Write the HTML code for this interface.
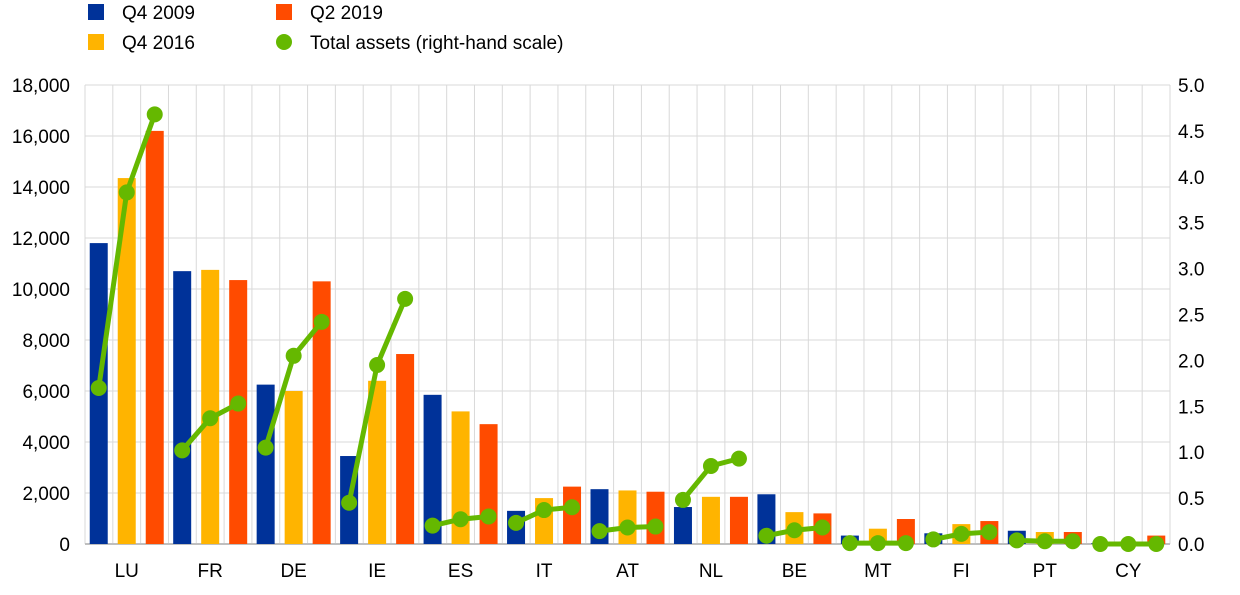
<!DOCTYPE html>
<html><head><meta charset="utf-8"><style>
body{margin:0;background:#fff;font-family:"Liberation Sans",sans-serif}
svg text{font-family:"Liberation Sans",sans-serif;font-size:19px;fill:#000}
</style></head><body>
<svg id="c" width="1240" height="590"></svg>
<script>
const categories=["LU","FR","DE","IE","ES","IT","AT","NL","BE","MT","FI","PT","CY"];
const q42009=[11800,10700,6250,3450,5850,1300,2150,1450,1950,330,420,520,30];
const q42016=[14350,10750,6000,6400,5200,1800,2100,1850,1250,600,780,470,100];
const q22019=[16200,10350,10300,7450,4700,2250,2050,1850,1200,980,900,470,330];
const assets2009=[1.7,1.02,1.05,0.45,0.2,0.23,0.14,0.48,0.09,0.01,0.05,0.04,0.0];
const assets2016=[3.83,1.37,2.05,1.95,0.27,0.37,0.18,0.85,0.15,0.01,0.11,0.03,0.0];
const assets2019=[4.68,1.53,2.42,2.67,0.3,0.4,0.19,0.93,0.18,0.01,0.13,0.03,0.0];
const leftTicks=[0,2000,4000,6000,8000,10000,12000,14000,16000,18000];
const rightTicks=[0,0.5,1,1.5,2,2.5,3,3.5,4,4.5,5];
const X0=85,X1=1170,Y0=544,Y1=85;
const cw=(X1-X0)/categories.length;
const yL=v=>Y0-(v/18000)*(Y0-Y1);
const yR=v=>Y0-(v/5)*(Y0-Y1);
const xC=(i,k)=>X0+cw*(i+0.5)+(k-1)*28;
const svg=document.getElementById('c');const NS='http://www.w3.org/2000/svg';
function mk(t,a,p){const e=document.createElementNS(NS,t);for(const k in a)e.setAttribute(k,a[k]);(p||svg).appendChild(e);return e;}
// grid
for(let j=0;j<=categories.length*3;j++){const x=X0+j*cw/3;const g=mk('line',{x1:x,x2:x,y1:Y1,y2:Y0,stroke:'#d9d9d9','stroke-width':1});

}
leftTicks.forEach(v=>{const y=yL(v);const g=mk('line',{x1:X0,x2:X1,y1:y,y2:y,stroke:'#d9d9d9','stroke-width':1});


const t=mk('text',{x:70,y:y+7,'text-anchor':'end'});t.textContent=v.toLocaleString('en-US');

});
rightTicks.forEach(v=>{const t=mk('text',{x:1178,y:yR(v)+7});t.textContent=v.toFixed(1);

});
const ax=mk('line',{x1:X0,x2:X1,y1:Y0,y2:Y0,stroke:'#bfbfbf','stroke-width':2});


const series=[[q42009,'#003299','bar-q4-2009'],[q42016,'#ffb400','bar-q4-2016'],[q22019,'#ff4b00','bar-q2-2019']];
categories.forEach((c,i)=>{
 series.forEach((s,k)=>{const y=yL(s[0][i]);const r=mk('rect',{x:xC(i,k)-9,y:y,width:18,height:Y0-y,fill:s[1]});
 
 });
 const t=mk('text',{x:xC(i,1),y:577,'text-anchor':'middle'});t.textContent=c;
 
 
});
categories.forEach((c,i)=>{
 const vals=[assets2009[i],assets2016[i],assets2019[i]];
 const pts=vals.map((v,k)=>xC(i,k)+','+yR(v)).join(' ');
 const l=mk('polyline',{points:pts,fill:'none',stroke:'#65b800','stroke-width':5});
 
 
 vals.forEach((v,k)=>{const p=mk('circle',{cx:xC(i,k),cy:yR(v),r:8,fill:'#65b800'});
 
 });
});
// legend
const leg=[['rect',88,12,'#003299','Q4 2009',122,'legend-q4-2009'],['rect',88,42,'#ffb400','Q4 2016',122,'legend-q4-2016'],['rect',276,12,'#ff4b00','Q2 2019',310,'legend-q2-2019'],['circle',284,42,'#65b800','Total assets (right-hand scale)',310,'legend-total-assets']];
leg.forEach(l=>{let m;if(l[0]==='rect')m=mk('rect',{x:l[1],y:l[2]-8,width:16,height:16,fill:l[3]});else m=mk('circle',{cx:l[1],cy:l[2],r:8,fill:l[3]});
 
 
 const t=mk('text',{x:l[5],y:l[2]+7});t.textContent=l[4];
 
 });
</script>
</body></html>
